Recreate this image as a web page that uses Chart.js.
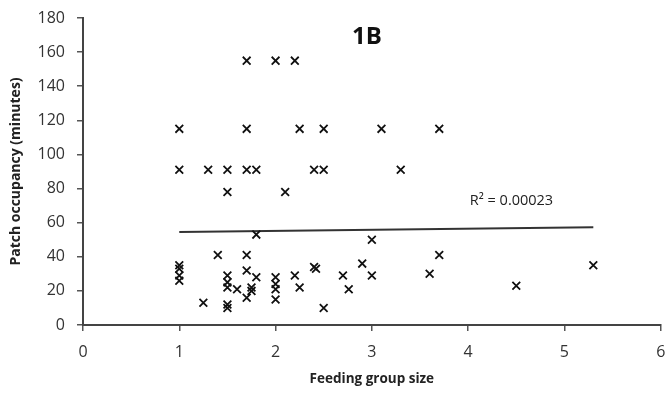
<!DOCTYPE html>
<html><head><meta charset="utf-8">
<script src="https://cdn.jsdelivr.net/npm/chart.js@4/dist/chart.umd.min.js"></script>
<style>html,body{margin:0;padding:0;background:#fff}#wrap{width:668px;height:397px}</style>
</head><body><div id="wrap"><canvas id="c" width="668" height="397"></canvas></div>
<script>
const groupSize = [
  1.7, 2.0, 2.2,
  1.0, 1.7, 2.25, 2.5, 3.1, 3.7,
  1.0, 1.3, 1.5, 1.7, 1.8, 2.4, 2.5, 3.3,
  1.5, 2.1,
  1.8, 1.4, 1.7, 3.0, 3.7,
  1.0, 1.0, 1.0, 1.0,
  1.25,
  1.5, 1.5, 1.5, 1.5, 1.5,
  1.6, 1.7, 1.75, 1.75, 1.7, 1.8,
  2.0, 2.0, 2.0, 2.0,
  2.2, 2.25, 2.4, 2.42, 2.5, 2.7, 2.76, 2.9, 3.0,
  3.6, 4.5, 5.3
];
const occupancy = [
  155, 155, 155,
  115, 115, 115, 115, 115, 115,
  91, 91, 91, 91, 91, 91, 91, 91,
  78, 78,
  53, 41, 41, 50, 41,
  35, 33, 29, 26,
  13,
  29, 25, 22, 12, 10,
  21, 32, 22, 20, 16, 28,
  28, 24, 21, 15,
  29, 22, 34, 33, 10, 29, 21, 36, 29,
  30, 23, 35
];
const trendX = [1.0, 5.3];
const trendY = [54.5, 57.3];
const xTicks = [0, 1, 2, 3, 4, 5, 6];
const yTicks = [0, 20, 40, 60, 80, 100, 120, 140, 160, 180];
const chartTitle = "1B";
const r2Label = "R² = 0.00023";
const r2At = [4.45, 72.5];
const xTitle = "Feeding group size";
const yTitle = "Patch occupancy (minutes)";

const points = groupSize.map((x, i) => ({x: x, y: occupancy[i]}));
const trend = trendX.map((x, i) => ({x: x, y: trendY[i]}));
const FONT = '"Open Sans", "Liberation Sans", sans-serif';

const textPlugin = {
  id: 'texts',
  afterDraw(chart) {
    const ctx = chart.ctx, xs = chart.scales.x, ys = chart.scales.y;
    ctx.save();
    ctx.fillStyle = '#111';
    ctx.font = 'bold 24px ' + FONT;
    ctx.textAlign = 'center';
    ctx.textBaseline = 'middle';
    ctx.fillText(chartTitle, 367, 37);
    ctx.font = '14.5px ' + FONT;
    ctx.fillStyle = '#222';
    ctx.fillText(r2Label, xs.getPixelForValue(r2At[0]), ys.getPixelForValue(r2At[1]));
    ctx.restore();
  }
};

new Chart(document.getElementById('c'), {
  type: 'scatter',
  data: {
    datasets: [
      {
        data: points,
        pointStyle: 'crossRot',
        pointRadius: 5.5,
        pointHoverRadius: 5.5,
        borderColor: '#111',
        backgroundColor: '#111',
        pointBorderWidth: 1.8,
        order: 1
      },
      {
        data: trend,
        type: 'line',
        showLine: true,
        pointRadius: 0,
        borderColor: '#333',
        borderWidth: 2,
        fill: false,
        order: 2
      }
    ]
  },
  options: {
    responsive: false,
    animation: false,
    devicePixelRatio: 1,
    layout: {padding: {left: 8, right: 1, top: 18, bottom: 6}},
    plugins: {legend: {display: false}, tooltip: {enabled: false}, title: {display: false}},
    scales: {
      x: {
        type: 'linear',
        min: 0, max: 6,
        afterBuildTicks(s) { s.ticks = xTicks.map(v => ({value: v})); },
        afterFit(s) { s.height = 66; s.paddingLeft = 0; s.paddingRight = 0; },
        border: {color: '#444', width: 2},
        grid: {display: true, drawOnChartArea: false, drawTicks: true, tickLength: 6, color: '#555', lineWidth: 1.5},
        ticks: {color: '#333', font: {size: 16, family: FONT}, padding: 12, maxRotation: 0},
        title: {display: true, text: xTitle, color: '#222', font: {size: 13.5, weight: 'bold', family: FONT}, padding: {top: 6, bottom: 4}}
      },
      y: {
        type: 'linear',
        min: 0, max: 180,
        afterBuildTicks(s) { s.ticks = yTicks.map(v => ({value: v})); },
        afterFit(s) { s.width = 75; s.paddingTop = 0; s.paddingBottom = 0; },
        border: {color: '#444', width: 2},
        grid: {display: true, drawOnChartArea: false, drawTicks: true, tickLength: 6, color: '#555', lineWidth: 1.5},
        ticks: {color: '#333', font: {size: 16, family: FONT}, padding: 12},
        title: {display: true, text: yTitle, color: '#222', font: {size: 14, weight: 'bold', family: FONT}, padding: {top: 0, bottom: 2}}
      }
    }
  },
  plugins: [textPlugin]
});
</script></body></html>
